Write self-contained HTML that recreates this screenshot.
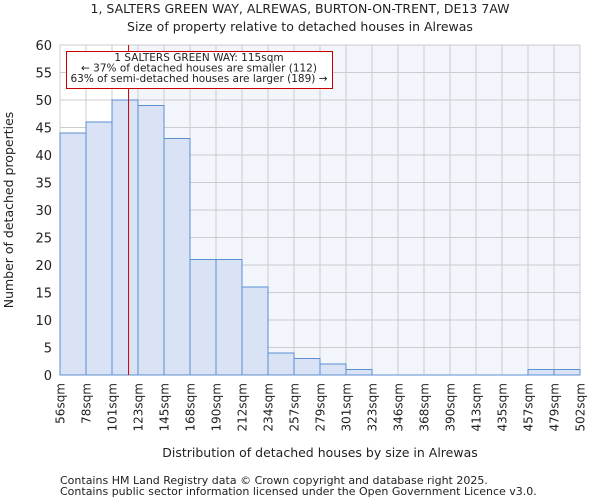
<!DOCTYPE html>
<html><head><meta charset="utf-8"><style>
body{margin:0;background:#fff;font-family:"DejaVu Sans","Liberation Sans",sans-serif}
svg text{font-family:"DejaVu Sans","Liberation Sans",sans-serif;fill:#222}
</style></head><body>
<svg id="chart" width="600" height="500" xmlns="http://www.w3.org/2000/svg">
<text x="300" y="13" font-size="12.5" text-anchor="middle">1, SALTERS GREEN WAY, ALREWAS, BURTON-ON-TRENT, DE13 7AW</text>
<text x="300" y="31" font-size="12.5" text-anchor="middle">Size of property relative to detached houses in Alrewas</text>
<g id="plot"></g>
<text x="320" y="457" font-size="12.5" text-anchor="middle">Distribution of detached houses by size in Alrewas</text>
<text transform="translate(13,210) rotate(-90)" font-size="12.5" text-anchor="middle">Number of detached properties</text>
<text x="60" y="484" font-size="11">Contains HM Land Registry data © Crown copyright and database right 2025.</text>
<text x="60" y="495" font-size="11">Contains public sector information licensed under the Open Government Licence v3.0.</text>
</svg>
<script>
const categories=["56sqm","78sqm","101sqm","123sqm","145sqm","168sqm","190sqm","212sqm","234sqm","257sqm","279sqm","301sqm","323sqm","346sqm","368sqm","390sqm","413sqm","435sqm","457sqm","479sqm","502sqm"];
const binStarts=[56,78,101,123,145,168,190,212,234,257,279,301,323,346,368,390,413,435,457,479,502];
const counts=[44,46,50,49,43,21,21,16,4,3,2,1,0,0,0,0,0,0,1,1];
const yTicks=[0,5,10,15,20,25,30,35,40,45,50,55,60];
const propertySize=115;
const L=60,R=580,T=45,B=375,yMax=60;
const NS="http://www.w3.org/2000/svg";
const g=document.getElementById('plot');
const bw=(R-L)/counts.length;
const x=i=>L+i*bw;
const y=v=>B-(B-T)*v/yMax;
function sizeX(s){for(let i=0;i<binStarts.length-1;i++){if(s>=binStarts[i]&&s<=binStarts[i+1])return x(i)+bw*(s-binStarts[i])/(binStarts[i+1]-binStarts[i]);}return R;}
function el(t,a){const e=document.createElementNS(NS,t);for(const k in a)e.setAttribute(k,a[k]);g.appendChild(e);return e;}
const mx=sizeX(propertySize);
let e=el('rect',{x:mx,y:T,width:R-mx,height:B-T,fill:'#f2f5fc'});


yTicks.forEach(t=>{
 let l=el('line',{x1:L,x2:R,y1:y(t),y2:y(t),stroke:'#ccc','stroke-width':1});
 
 
 let tx=el('text',{x:L-8,y:y(t)+5,'font-size':13,'text-anchor':'end'});tx.textContent=t;
 
 
});
categories.forEach((c,i)=>{
 let l=el('line',{x1:x(i),x2:x(i),y1:T,y2:B,stroke:'#ccc','stroke-width':1});
 
 
 let tx=el('text',{'font-size':12,'text-anchor':'end',transform:`translate(${x(i)+4.5},${B+8}) rotate(-90)`});tx.textContent=c;
 
 
});
counts.forEach((v,i)=>{
 if(v<=0)return;
 let r=el('rect',{x:x(i),y:y(v),width:bw,height:B-y(v),fill:'#dae3f5',stroke:'#5b8fd0','stroke-width':1});
 
 
});
e=el('line',{x1:L,x2:R,y1:B,y2:B,stroke:'#5b8fd0','stroke-width':1});


e=el('line',{x1:mx,x2:mx,y1:T,y2:B,stroke:'#cc0000','stroke-width':1});


e=el('rect',{x:66.5,y:51.5,width:266,height:37,fill:'#fff',stroke:'#cc0000','stroke-width':1});


const lines=["1 SALTERS GREEN WAY: 115sqm","← 37% of detached houses are smaller (112)","63% of semi-detached houses are larger (189) →"];
lines.forEach((s,k)=>{let t=el('text',{x:199,y:61+k*10.5,'font-size':10.5,'text-anchor':'middle'});t.textContent=s;
 
 });
</script>
</body></html>
